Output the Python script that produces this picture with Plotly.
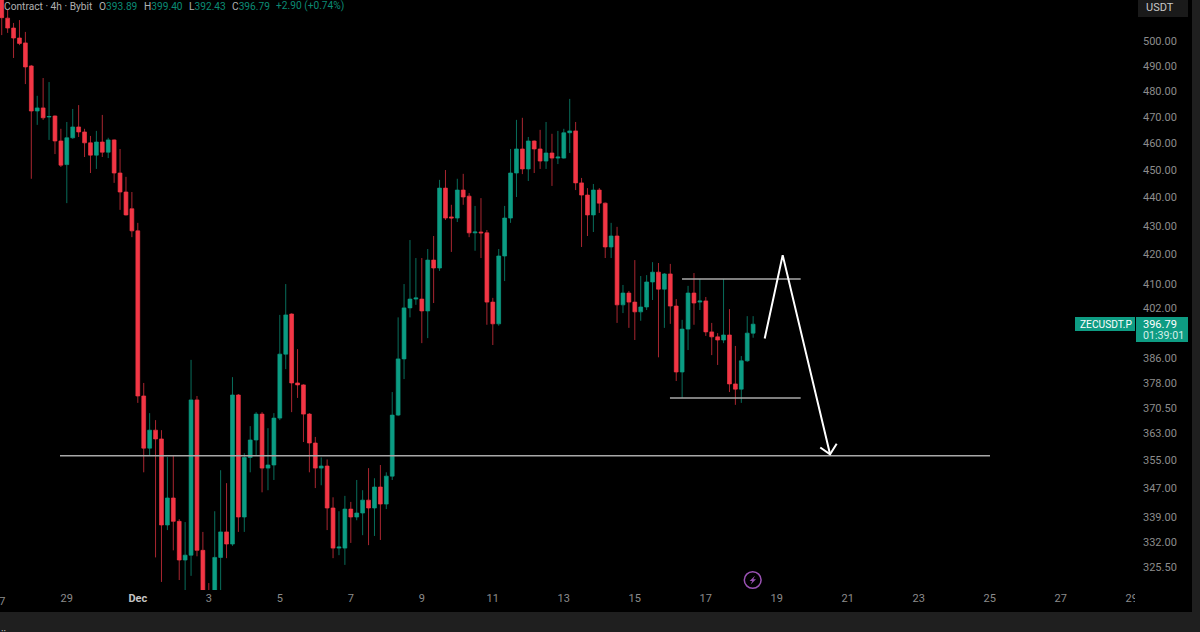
import pandas as pd
import plotly.graph_objects as go

# ZECUSDT.P 4h candles
opens = [517.0, 509.4, 505.3, 501.2, 499.2, 489.9, 472.2, 473.4, 469.9, 470.3, 460.8, 452.0, 462.0, 466.1, 464.2, 460.1,
         455.5, 460.4, 456.6, 461.2, 448.9, 442.0, 436.0, 428.2, 374.2, 358.6, 363.9, 361.3, 336.8, 344.3, 337.8, 327.3,
         328.6, 373.0, 329.9, 318.9, 317.5, 328.0, 334.9, 331.6, 374.5, 339.0, 355.9, 361.0, 368.7, 352.8, 353.7, 367.5,
         387.2, 400.1, 378.2, 377.6, 368.7, 360.1, 352.8, 353.4, 341.5, 330.5, 330.5, 341.2, 339.0, 340.1, 343.7, 341.5,
         347.4, 342.6, 350.5, 368.4, 385.7, 402.1, 405.0, 405.0, 401.1, 418.1, 415.4, 443.4, 433.1, 432.7, 442.7, 440.5,
         427.5, 427.8, 427.5, 404.0, 396.9, 419.5, 432.7, 448.9, 457.8, 450.4, 460.8, 457.8, 453.3, 456.3, 454.4, 454.4,
         463.9, 464.6, 445.3, 440.9, 433.8, 442.7, 438.0, 422.6, 426.4, 403.1, 407.0, 404.0, 400.8, 402.4, 410.7, 414.0,
         408.3, 413.4, 402.7, 381.6, 395.2, 407.0, 404.0, 404.4, 394.3, 392.7, 391.7, 393.3, 377.9, 376.3, 385.1, 393.89]
highs = [518.5, 512.8, 507.4, 508.6, 503.7, 490.3, 478.1, 485.1, 483.5, 470.5, 465.4, 468.0, 473.0, 474.5, 465.4, 462.7,
         464.6, 470.7, 462.0, 461.4, 457.8, 447.5, 442.0, 431.0, 378.2, 369.0, 366.9, 363.9, 356.0, 356.3, 338.4, 337.6,
         385.4, 374.2, 334.9, 321.2, 340.6, 352.2, 348.5, 380.0, 374.8, 357.1, 365.1, 369.3, 369.3, 364.5, 369.0, 399.8,
         410.0, 400.3, 388.8, 377.8, 369.0, 361.9, 355.9, 355.3, 344.5, 340.6, 344.9, 343.2, 349.4, 346.5, 352.8, 349.9,
         353.7, 351.6, 375.4, 399.0, 410.0, 425.0, 418.8, 418.8, 421.9, 426.4, 446.4, 450.0, 437.4, 446.8, 448.6, 441.6,
         437.0, 439.8, 428.5, 405.4, 421.9, 437.0, 457.8, 468.8, 469.6, 462.3, 461.0, 465.0, 468.0, 463.5, 464.6, 465.4,
         476.9, 468.0, 447.1, 443.4, 444.9, 443.4, 438.2, 431.0, 429.6, 409.7, 407.7, 418.1, 412.7, 413.0, 417.4, 417.1,
         413.7, 416.8, 405.0, 398.2, 409.4, 413.7, 411.7, 405.7, 397.2, 393.9, 411.7, 401.7, 389.8, 386.6, 399.4, 399.40]
lows = [502.4, 503.3, 493.1, 498.3, 482.7, 446.8, 466.9, 468.8, 461.2, 455.9, 451.1, 438.0, 461.6, 462.3, 454.8, 448.9,
        450.4, 454.8, 454.4, 445.3, 435.6, 433.6, 426.0, 372.1, 351.6, 356.5, 328.0, 321.5, 335.4, 329.9, 322.0, 319.0,
        323.1, 328.3, 316.5, 312.5, 315.8, 318.5, 327.8, 331.1, 334.9, 334.9, 351.6, 356.3, 345.9, 346.5, 349.4, 366.9,
        382.5, 369.3, 373.6, 360.4, 351.6, 347.1, 347.9, 335.4, 327.8, 328.6, 326.0, 331.9, 338.1, 334.0, 331.3, 333.8,
        332.7, 341.2, 349.4, 368.1, 379.4, 399.0, 403.1, 390.7, 392.3, 403.7, 414.4, 432.0, 420.9, 431.3, 437.4, 426.0,
        421.3, 418.8, 396.6, 390.1, 396.3, 411.0, 431.0, 440.2, 448.5, 446.0, 448.9, 450.4, 450.4, 444.2, 452.2, 454.2,
        456.3, 442.7, 422.6, 426.4, 427.8, 434.5, 418.8, 418.8, 397.2, 400.4, 395.6, 391.7, 397.9, 401.4, 404.7, 386.2,
        395.6, 396.9, 378.8, 373.6, 388.5, 396.6, 401.4, 393.0, 386.9, 383.8, 390.7, 375.4, 371.5, 372.1, 384.8, 392.43]
closes = [509.6, 505.3, 501.2, 499.0, 489.5, 472.2, 473.4, 469.6, 470.1, 460.8, 451.8, 462.0, 466.1, 464.2, 460.1, 455.5,
          460.4, 456.6, 461.2, 448.9, 442.0, 433.8, 428.2, 374.2, 358.6, 363.9, 361.3, 336.8, 344.3, 337.8, 327.3, 328.6,
          373.0, 329.9, 318.5, 314.0, 328.0, 334.9, 331.6, 374.5, 339.0, 355.9, 361.0, 368.7, 352.8, 353.7, 367.5, 387.2,
          399.8, 378.2, 377.6, 368.7, 360.1, 352.8, 353.4, 341.5, 330.5, 330.8, 341.2, 339.0, 340.1, 343.7, 341.5, 347.4,
          342.6, 350.5, 368.4, 385.7, 402.1, 405.0, 405.4, 401.1, 418.1, 415.4, 443.4, 432.7, 432.7, 442.7, 440.2, 427.5,
          427.8, 427.5, 404.0, 396.9, 419.5, 432.7, 448.9, 457.8, 450.4, 460.8, 457.8, 453.3, 456.3, 454.4, 454.8, 463.9,
          464.6, 445.3, 440.9, 433.8, 442.7, 438.0, 422.6, 426.4, 403.1, 407.0, 404.0, 400.8, 402.4, 410.7, 414.0, 408.3,
          413.4, 402.7, 381.6, 395.2, 407.0, 403.7, 404.4, 394.3, 392.7, 391.7, 393.3, 377.9, 376.3, 385.1, 393.9, 396.79]
times = pd.date_range("2025-11-27 04:00", periods=len(opens), freq="4h")

# Axis labels
date_ticks = ["2025-11-29", "2025-12-01", "2025-12-03", "2025-12-05", "2025-12-07", "2025-12-09", "2025-12-11",
              "2025-12-13", "2025-12-15", "2025-12-17", "2025-12-19", "2025-12-21", "2025-12-23", "2025-12-25",
              "2025-12-27", "2025-12-29"]
date_labels = ["29", "<span style='color:#c4c4c4'><b>Dec</b></span>", "3", "5", "7", "9", "11", "13", "15", "17", "19",
               "21", "23", "25", "27", "29"]
price_ticks = [500, 490, 480, 470, 460, 450, 440, 430, 420, 410, 402, 386, 378, 370.5, 363, 355, 347, 339, 332, 325.5]

# Lines drawn by hand on the chart
support_times = ["2025-11-28 19:24", "2025-12-25 00:08"]
support_prices = [356.35, 356.35]
range_top_times = ["2025-12-16 07:55", "2025-12-19 16:09"]
range_top_prices = [411.7, 411.7]
range_bottom_times = ["2025-12-15 23:46", "2025-12-19 16:09"]
range_bottom_prices = [373.6, 373.6]
path_times = ["2025-12-18 15:49", "2025-12-19 03:59", "2025-12-20 12:00"]
path_prices = [392.2, 419.8, 356.8]
head_times = ["2025-12-20 05:24", "2025-12-20 12:00", "2025-12-20 16:29"]
head_prices = [358.8, 356.8, 359.9]

GREEN = "#0b9c83"
RED = "#f23645"
GREY = "#8c8c8c"
FONT = "Roboto"

WIDTH, HEIGHT = 1200, 632
PLOT_W, PLOT_H = 1135, 590


def px(x):
    return x / PLOT_W


def py(y):
    return 1 - y / PLOT_H


def label(x, y, text, color=GREY, size=11):
    return dict(xref="paper", yref="paper", x=px(x), y=py(y), text=text, showarrow=False, xanchor="left",
                yanchor="middle", xshift=0, borderpad=0, font=dict(family=FONT, size=size, color=color))


def box(x0, y0, x1, y1, color):
    return dict(type="rect", xref="paper", yref="paper", x0=px(x0), y0=py(y0), x1=px(x1), y1=py(y1),
                fillcolor=color, line_width=0, layer="above")


fig = go.Figure()

fig.add_trace(go.Candlestick(
    x=times, open=opens, high=highs, low=lows, close=closes,
    increasing=dict(line=dict(color=GREEN, width=0.7), fillcolor=GREEN),
    decreasing=dict(line=dict(color=RED, width=0.7), fillcolor=RED),
    whiskerwidth=0,
    showlegend=False,
))

for xs, ys, color, w in [
    (support_times, support_prices, "#a8a8a8", 1.5),
    (range_top_times, range_top_prices, "#a8a8a8", 1.5),
    (range_bottom_times, range_bottom_prices, "#a8a8a8", 1.5),
    (path_times, path_prices, "#ffffff", 2),
    (head_times, head_prices, "#ffffff", 2),
]:
    fig.add_trace(go.Scatter(x=xs, y=ys, mode="lines", line=dict(color=color, width=w), showlegend=False,
                             hoverinfo="skip"))

shapes = [
    box(1192, 0, 1200, 632, "#1f1f1f"),
    box(0, 612, 1200, 632, "#1f1f1f"),
    # the last date label runs under the price scale
    box(1135, 592, 1141, 610, "#000000"),
    # tags at the last price
    box(1136, 317, 1188, 342, "#0e9c83"),
    box(1075, 317, 1135, 331, "#0e9c83"),
    box(1138, 0, 1188, 17, "#1a1a1a"),
    dict(type="circle", xref="paper", yref="paper", x0=px(744.3), y0=py(571.7), x1=px(761.1), y1=py(588.3),
         line=dict(color="#9a52b3", width=1.5), layer="above"),
    dict(type="path", xref="paper", yref="paper", fillcolor="#9a52b3", line_width=0, layer="above",
         path="M {} {} L {} {} L {} {} L {} {} L {} {} L {} {} Z".format(
             px(755), py(575.8), px(749.6), py(581), px(752.3), py(581),
             px(750.6), py(584.4), px(756), py(579.2), px(753.3), py(579.2))),
]

values = [(98, "O", "393.89"), (143, "H", "399.40"), (187.5, "L", "392.43"), (231, "C", "396.79")]
annotations = [label(2.5, 6.5, "Contract · 4h · Bybit", "#b0b0b0", 10.2)]
for x, name, value in values:
    annotations.append(label(x, 6.5, "<span style='color:#b0b0b0'>%s</span>%s" % (name, value), "#0b8a74", 10.2))
annotations += [
    label(275, 6.5, "+2.90 (+0.74%)", "#0b8a74", 10.2),
    label(1145, 7.5, "USDT", "#c8c8c8", 11),
    label(1079, 324, "ZECUSDT.P", "#ffffff", 10.2),
    label(1142, 324, "396.79", "#ffffff", 11),
    label(1142, 335.5, "01:39:01", "#d5efe9", 10.7),
    label(-8, 601, "27"),
    label(0, 632, "::", "#d0d0d0", 10),
]

fig.update_layout(
    width=WIDTH,
    height=HEIGHT,
    margin=dict(l=0, r=WIDTH - PLOT_W, t=0, b=HEIGHT - PLOT_H),
    paper_bgcolor="#000000",
    plot_bgcolor="#000000",
    showlegend=False,
    hovermode=False,
    boxgap=0.08,
    font=dict(family=FONT, size=11, color=GREY),
    shapes=shapes,
    annotations=annotations,
    xaxis=dict(
        type="date",
        range=["2025-11-27 02:50", "2025-12-29 02:10"],
        rangeslider=dict(visible=False),
        showgrid=False,
        zeroline=False,
        showline=False,
        ticks="",
        tickmode="array",
        tickvals=date_ticks,
        ticktext=date_labels,
        tickangle=0,
    ),
    yaxis=dict(
        type="log",
        side="right",
        range=[2.50432, 2.71349],
        showgrid=False,
        zeroline=False,
        showline=False,
        ticks="",
        tickmode="array",
        tickvals=price_ticks,
        ticktext=["%.2f" % p for p in price_ticks],
        ticklabelstandoff=7,
    ),
)

fig.write_html("out.html", config={"displayModeBar": False}, post_script="document.body.style.margin='0';")
